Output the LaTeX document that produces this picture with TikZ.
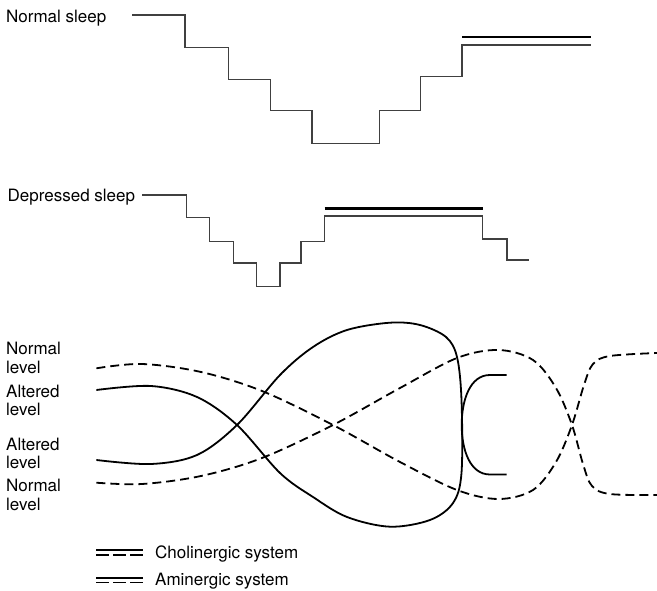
\documentclass[tikz,border=0pt]{standalone}
\usepackage{fontspec}
\setmainfont{TeX Gyre Heros}
\begin{document}
\begin{tikzpicture}[x=1pt,y=-1pt,
  lbl/.style={font=\fontsize{17}{19}\selectfont, inner sep=0pt, anchor=base west},
  stepline/.style={line width=1.4pt, draw=black!75},
  thickline/.style={line width=2.8pt, draw=black},
  cholin/.style={line width=1.8pt, draw=black},
  amin/.style={line width=1.8pt, draw=black, dash pattern=on 9pt off 5pt},
  legsolid/.style={line width=1.2pt, draw=black},
  legdash/.style={line width=1.8pt, draw=black, dash pattern=on 13pt off 4pt}]
\useasboundingbox (0,0) rectangle (657,591);

% Normal sleep hypnogram
\node[lbl] (ns) at (6,22.7) {Normal sleep};
\draw[stepline] (132,15) -| (184.8,47.7) -| (228.7,79.3) -| (270.2,110.3) -| (312.1,143.7)
  -| (379.6,110.3) -| (420.2,76.7) -| (462.1,45) -- (590.7,45);
\draw[thickline] (462.1,37) -- (590.7,37);

% Depressed sleep hypnogram
\node[lbl] (ds) at (7.5,201.7) {Depressed sleep};
\draw[stepline] (142.4,195) -| (186.4,217.7) -| (209.5,241.3) -| (233.3,263) -| (256.4,286.7)
  -| (279.8,263) -| (300.8,241.3) -| (324.7,216) -| (482.6,239) -| (506.9,260) -- (529.1,260);
\draw[thickline] (324.7,208.3) -- (482.6,208.3);

% level labels
\node[lbl] (n1) at (6,355) {Normal};
\node[lbl] (l1) at (6,373.5) {level};
\node[lbl] (a1) at (6,397) {Altered};
\node[lbl] (l2) at (6,415.5) {level};
\node[lbl] (a2) at (6,450) {Altered};
\node[lbl] (l3) at (6,468.5) {level};
\node[lbl] (n2) at (6,491.5) {Normal};
\node[lbl] (l4) at (6,510) {level};

% cholinergic loop
\draw[cholin] plot[smooth, tension=0.55] coordinates {
  (96.4,460) (151,464) (197,455) (237,425) (280,375) (313,347) (347,330) (390,322.7)
  (420,325) (446,337) (457,357) (461.5,400) (461.5,473) (453,503) (430,520) (390,526.7)
  (347,517) (313,497) (280,473) (237,425) (197,397) (151,386) (96.4,390)};
\draw[cholin] (506.7,375) -- (490,375) .. controls (470,375) and (461.7,400) .. (461.7,425)
  .. controls (461.7,450) and (470,474.5) .. (490,474.5) -- (506.7,474.5);

% aminergic curves
\draw[amin] plot[smooth, tension=0.55] coordinates {
  (96.4,368.3) (142,364) (201,372) (262,391) (333,425) (400,462) (457,490) (498.5,499)
  (533,490) (556,462) (572,425) (584,385) (593,364) (610,356) (657,353)};
\draw[amin] plot[smooth, tension=0.55] coordinates {
  (96.4,482.7) (142,484) (201,476) (262,458) (333,425) (400,388) (457,358) (498.5,350)
  (533,360) (556,388) (572,425) (583,464) (592,486) (610,494) (657,495)};

% legend
\draw[legsolid] (96,550) -- (143,550);
\draw[legdash] (96,555) -- (143,555);
\node[lbl] (lc) at (155,558) {Cholinergic system};
\draw[legsolid] (96,578) -- (143,578);
\draw[legdash] (96,582.5) -- (143,582.5);
\node[lbl] (la) at (155,585) {Aminergic system};
\end{tikzpicture}
\end{document}
